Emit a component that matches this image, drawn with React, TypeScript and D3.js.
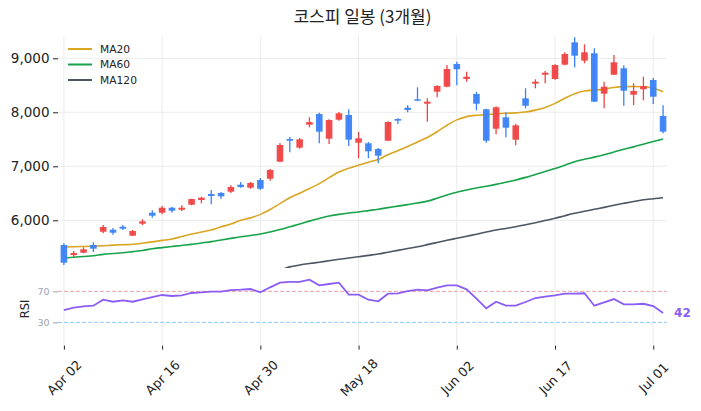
import React, { useEffect, useRef } from 'react';
import * as d3 from 'd3';

// 62 trading days, red = up, blue = down
const opens = [5543, 5357, 5400, 5543, 5789, 5826, 5881, 5715, 5937, 6141,
  6141, 6233, 6196, 6289, 6376, 6487, 6506, 6530, 6659, 6604,
  6746, 6770, 7085, 7506, 7345, 7770, 7969, 7511, 7863, 7950,
  7437, 7426, 7320, 7474, 7876, 8085, 8241, 8159, 8381, 8474,
  8895, 8617, 8339, 8056, 7696, 7907, 7493, 8259, 8530, 8696,
  8617, 8882, 9296, 8956, 9093, 8345, 8696, 8815, 8326, 8426,
  8598, 7932];
const highs = [5575, 5431, 5500, 5593, 5913, 5857, 5913, 5820, 6019, 6185,
  6265, 6252, 6278, 6400, 6437, 6561, 6524, 6648, 6709, 6709,
  6783, 6950, 7432, 7543, 7524, 7908, 7993, 7870, 8006, 8056,
  7635, 7450, 7339, 7833, 7889, 8130, 8463, 8259, 8500, 8876,
  8937, 8752, 8382, 8067, 8111, 8000, 7789, 8445, 8611, 8765,
  8889, 9111, 9389, 9259, 9185, 8567, 9061, 8870, 8537, 8659,
  8635, 8130];
const lows = [5172, 5320, 5389, 5413, 5759, 5733, 5820, 5709, 5913, 6048,
  6111, 6141, 6172, 6278, 6315, 6296, 6400, 6506, 6604, 6585,
  6561, 6733, 7074, 7259, 7326, 7722, 7426, 7413, 7845, 7376,
  7148, 7148, 7056, 7469, 7783, 8000, 8205, 7826, 8278, 8463,
  8500, 8567, 8037, 7437, 7593, 7537, 7389, 8074, 8445, 8537,
  8604, 8870, 8833, 8907, 8190, 8074, 8690, 8122, 8130, 8222,
  8154, 7611];
const closes = [5215, 5394, 5463, 5474, 5876, 5770, 5844, 5802, 5981, 6085,
  6233, 6178, 6233, 6394, 6419, 6450, 6444, 6617, 6617, 6691,
  6585, 6932, 7395, 7474, 7500, 7820, 7641, 7857, 7981, 7493,
  7519, 7278, 7196, 7820, 7845, 8043, 8215, 8196, 8487, 8802,
  8797, 8659, 8159, 7474, 8093, 7715, 7759, 8122, 8567, 8733,
  8876, 9080, 9048, 9111, 8196, 8474, 8926, 8400, 8395, 8487,
  8289, 7641];

const ma20 = [5506, 5510, 5515, 5522, 5530, 5540, 5548, 5556, 5575, 5600,
  5628, 5654, 5700, 5746, 5785, 5820, 5880, 5930, 6000, 6045,
  6110, 6200, 6310, 6419, 6500, 6590, 6680, 6790, 6895, 6965,
  7020, 7075, 7125, 7215, 7290, 7365, 7450, 7535, 7640, 7760,
  7860, 7920, 7945, 7955, 7970, 7982, 7990, 8005, 8040, 8090,
  8165, 8260, 8345, 8395, 8410, 8430, 8460, 8475, 8478, 8472,
  8445, 8382];
const ma60 = [5302, 5315, 5330, 5345, 5370, 5385, 5400, 5420, 5440, 5475,
  5495, 5515, 5535, 5555, 5580, 5605, 5635, 5665, 5695, 5720,
  5746, 5785, 5830, 5881, 5930, 5985, 6035, 6080, 6110, 6135,
  6155, 6180, 6205, 6235, 6262, 6290, 6320, 6355, 6410, 6470,
  6520, 6560, 6600, 6630, 6665, 6705, 6745, 6795, 6850, 6905,
  6960, 7020, 7085, 7130, 7170, 7215, 7265, 7315, 7360, 7410,
  7460, 7506];
// MA120 sits below the visible range for the first weeks
const ma120 = [null, null, null, null, null, null, null, null, null, null,
  null, null, null, null, null, null, null, null, null, null,
  null, null, 5075, 5138, 5172, 5200, 5225, 5252, 5278, 5302,
  5326, 5350, 5376, 5410, 5443, 5477, 5511, 5550, 5590, 5630,
  5667, 5705, 5743, 5782, 5820, 5850, 5881, 5918, 5956, 5996,
  6037, 6085, 6130, 6167, 6204, 6240, 6278, 6315, 6350, 6380,
  6400, 6419];
const rsi = [45.9, 48.9, 50.7, 51.5, 59.2, 56.6, 58.4, 56.6, 59.7, 62.7,
  65.3, 64, 64.9, 67.9, 68.8, 69.6, 69.6, 71.7, 72.1, 73,
  68.8, 75.2, 81.2, 82.1, 82.1, 85, 77.8, 79.5, 81.2, 65.7,
  65.7, 59.2, 57.2, 67, 67.5, 70.4, 72.1, 71.3, 74.7, 77.8,
  77.8, 72.6, 60.5, 48.1, 56.6, 51.5, 51.5, 56.3, 61.4, 63.1,
  64.9, 67, 67, 67.5, 51.5, 55.9, 60.1, 53.3, 53.3, 54,
  51.1, 42];

const tickIdx = [0, 10, 20, 30, 40, 50, 60];
const tickLabels = ['Apr 02', 'Apr 16', 'Apr 30', 'May 18', 'Jun 02', 'Jun 17', 'Jul 01'];
const priceTicks = [6000, 7000, 8000, 9000];
const rsiTicks = [30, 70];

const UP = '#ef4444';
const DOWN = '#3b82f6';
const FONT = 'DejaVu Sans, sans-serif';

function App() {
  const ref = useRef<SVGSVGElement>(null);

  useEffect(() => {
    document.body.style.margin = '0';
    const svg = d3.select(ref.current);
    svg.selectAll('*').remove();

    const left = 58, right = 667, top = 36, mainBottom = 268, rsiBottom = 345.6;

    const x = d3.scaleLinear().domain([-0.6, 61.4]).range([left, right]);
    const y = d3.scaleLinear().domain([5117, 9413]).range([mainBottom, top]);
    const yr = d3.scaleLinear().domain([0, 100]).range([rsiBottom, 268.1]);

    // title
    svg.append('text')
      .attr('x', (left + right) / 2)
      .attr('y', 23)
      .attr('text-anchor', 'middle')
      .style('font-family', 'Noto Sans CJK KR, sans-serif')
      .style('font-size', '17px')
      .attr('fill', '#222')
      .text('코스피 일봉 (3개월)');

    // grid
    const grid = svg.append('g').attr('stroke', '#ebebeb').attr('stroke-width', 1);
    tickIdx.forEach(i => {
      grid.append('line').attr('x1', x(i)).attr('x2', x(i)).attr('y1', top).attr('y2', rsiBottom);
    });
    priceTicks.forEach(v => {
      grid.append('line').attr('x1', left).attr('x2', right).attr('y1', y(v)).attr('y2', y(v));
    });

    svg.append('clipPath').attr('id', 'mainclip')
      .append('rect').attr('x', left).attr('y', top).attr('width', right - left).attr('height', mainBottom - top);

    const main = svg.append('g').attr('clip-path', 'url(#mainclip)');

    // moving averages
    const maLine = d3.line<number | null>()
      .defined(d => d != null)
      .x((d, i) => x(i))
      .y(d => y(d as number))
      .curve(d3.curveMonotoneX);

    const mas = [
      { vals: ma120, color: '#4b5563' },
      { vals: ma60, color: '#16a34a' },
      { vals: ma20, color: '#daa520' },
    ];
    mas.forEach(m => {
      main.append('path')
        .attr('d', maLine(m.vals))
        .attr('fill', 'none')
        .attr('stroke', m.color)
        .attr('stroke-width', 1.6);
    });

    // candles
    const bw = 6.6;
    const candles = main.selectAll('g.candle')
      .data(opens.map((o, i) => ({ i, o, h: highs[i], l: lows[i], c: closes[i] })))
      .enter().append('g');
    candles.append('line')
      .attr('x1', d => x(d.i)).attr('x2', d => x(d.i))
      .attr('y1', d => y(d.h)).attr('y2', d => y(d.l))
      .attr('stroke', d => (d.c >= d.o ? UP : DOWN))
      .attr('stroke-width', 1.3);
    candles.append('rect')
      .attr('x', d => x(d.i) - bw / 2)
      .attr('width', bw)
      .attr('y', d => y(Math.max(d.o, d.c)))
      .attr('height', d => Math.max(1.2, Math.abs(y(d.o) - y(d.c))))
      .attr('fill', d => (d.c >= d.o ? UP : DOWN))
      .attr('opacity', 0.95);

    // legend
    const legend = svg.append('g').attr('transform', 'translate(68,49)');
    [['MA20', '#daa520'], ['MA60', '#16a34a'], ['MA120', '#4b5563']].forEach((d, k) => {
      legend.append('line')
        .attr('x1', 0).attr('x2', 24).attr('y1', k * 15.5).attr('y2', k * 15.5)
        .attr('stroke', d[1]).attr('stroke-width', 2);
      legend.append('text')
        .attr('x', 32).attr('y', k * 15.5)
        .attr('dy', '0.35em')
        .style('font-family', FONT)
        .style('font-size', '10.7px')
        .attr('fill', '#222')
        .text(d[0]);
    });

    // price axis
    const yAxis = svg.append('g')
      .attr('transform', `translate(${left},0)`)
      .call(d3.axisLeft(y).tickValues(priceTicks).tickFormat(d3.format(',')).tickSize(5).tickPadding(3.5));
    yAxis.select('.domain').remove();
    yAxis.selectAll('text').style('font-family', FONT).style('font-size', '13.5px').attr('fill', '#222');
    yAxis.selectAll('line').attr('stroke', '#222');

    // RSI panel
    svg.append('line')
      .attr('x1', left).attr('x2', right).attr('y1', yr(70)).attr('y2', yr(70))
      .attr('stroke', '#f0a0a0').attr('stroke-width', 1).attr('stroke-dasharray', '4,2');
    svg.append('line')
      .attr('x1', left).attr('x2', right).attr('y1', yr(30)).attr('y2', yr(30))
      .attr('stroke', '#93c5fd').attr('stroke-width', 1).attr('stroke-dasharray', '4,2');

    const rsiLine = d3.line<number>().x((d, i) => x(i)).y(d => yr(d));
    svg.append('path')
      .attr('d', rsiLine(rsi))
      .attr('fill', 'none')
      .attr('stroke', '#8b5cf6')
      .attr('stroke-width', 1.8);

    svg.append('text')
      .attr('x', x(rsi.length - 1) + 11)
      .attr('y', yr(rsi[rsi.length - 1]))
      .attr('dy', '0.35em')
      .style('font-family', FONT)
      .style('font-size', '12px')
      .style('font-weight', 'bold')
      .attr('fill', '#8b5cf6')
      .text(String(rsi[rsi.length - 1]));

    const rAxis = svg.append('g')
      .attr('transform', `translate(${left},0)`)
      .call(d3.axisLeft(yr).tickValues(rsiTicks).tickSize(5).tickPadding(3.5));
    rAxis.select('.domain').remove();
    rAxis.selectAll('text').style('font-family', FONT).style('font-size', '9.5px').attr('fill', '#9ca3af');
    rAxis.selectAll('line').attr('stroke', '#9ca3af');

    svg.append('text')
      .attr('transform', `translate(29,${(yr(30) + yr(70)) / 2 + 2}) rotate(-90)`)
      .attr('text-anchor', 'middle')
      .style('font-family', FONT)
      .style('font-size', '11.5px')
      .attr('fill', '#222')
      .text('RSI');

    // date axis
    const xAxis = svg.append('g')
      .attr('transform', `translate(0,${rsiBottom})`)
      .call(d3.axisBottom(x).tickValues(tickIdx).tickFormat((d, k) => tickLabels[k]).tickSize(4));
    xAxis.select('.domain').remove();
    xAxis.selectAll('line').attr('stroke', '#222');
    xAxis.selectAll('text')
      .attr('y', 0).attr('dy', 0)
      .attr('transform', 'translate(0,32) rotate(-45)')
      .attr('text-anchor', 'middle')
      .attr('dominant-baseline', 'central')
      .style('font-family', FONT)
      .style('font-size', '12.8px')
      .attr('fill', '#222');
  }, []);

  return <svg ref={ref} width={701} height={411} style={{ display: 'block', background: '#fff' }} />;
}

export default App;
